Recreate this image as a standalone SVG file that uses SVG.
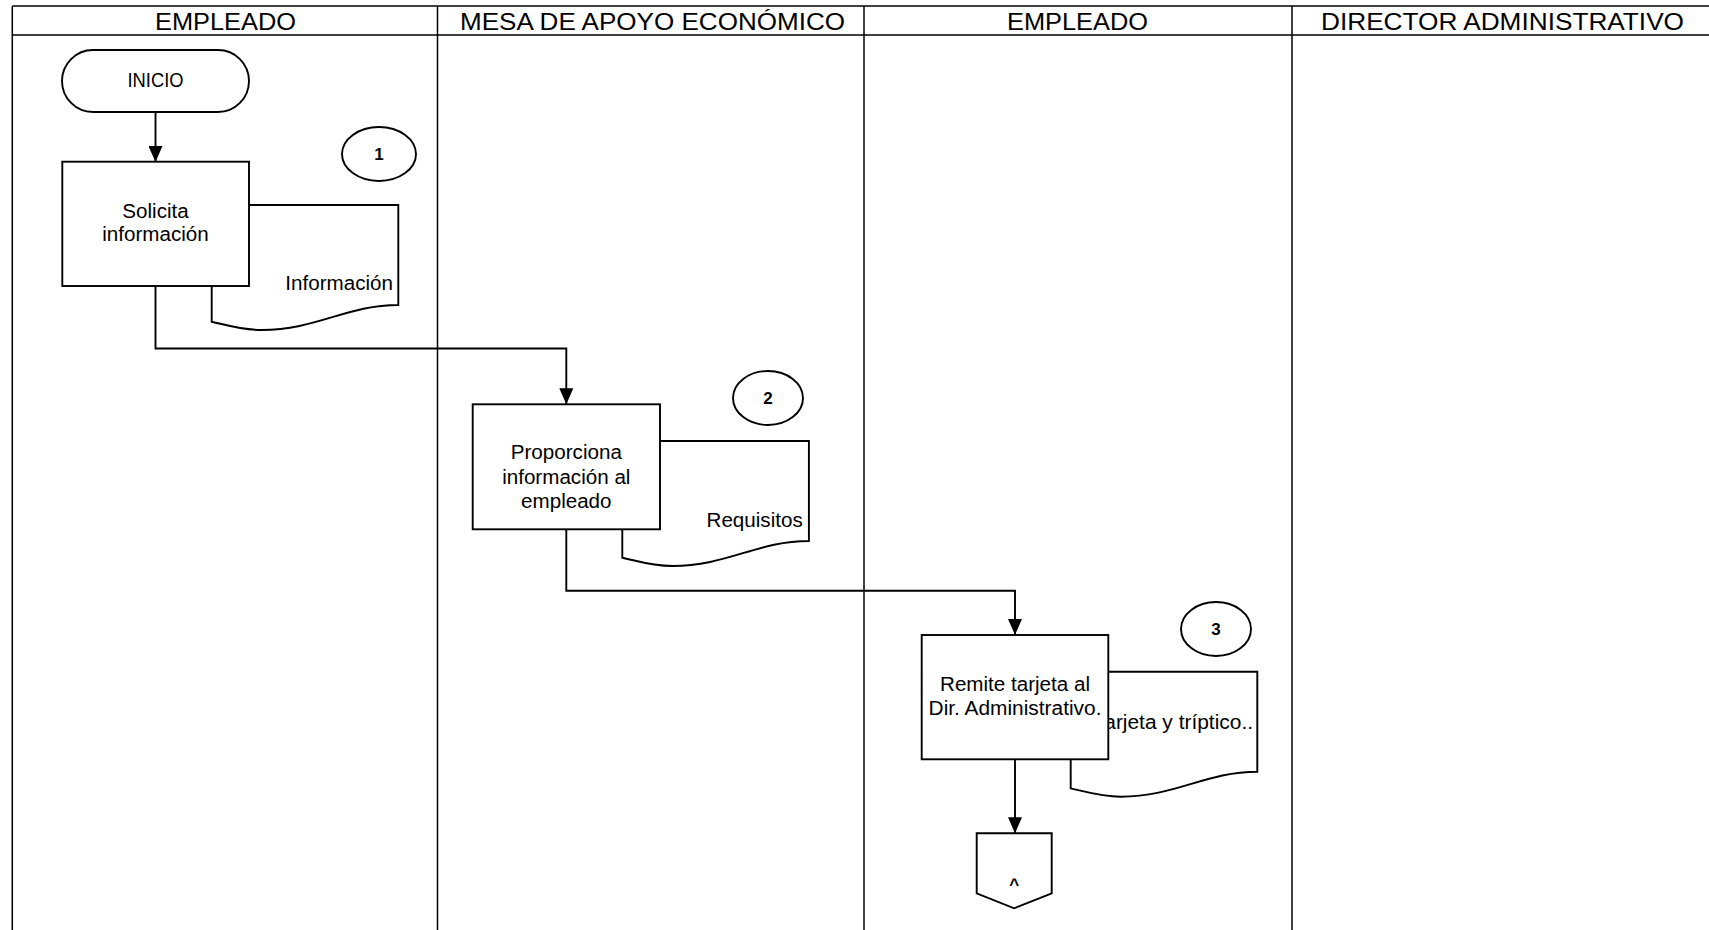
<svg xmlns="http://www.w3.org/2000/svg" width="1709" height="930" viewBox="0 0 1709 930">
  <style>
    .lane { stroke: #000; stroke-width: 1.5; fill: none; }
    .shape { stroke: #000; stroke-width: 1.9; fill: #fff; }
    .conn { stroke: #000; stroke-width: 1.9; fill: none; }
    .hdr { font-family: "Liberation Sans", Arial, sans-serif; font-size: 24px; fill: #000; text-anchor: middle; }
    .txt { font-family: "Liberation Sans", Arial, sans-serif; font-size: 19.5px; fill: #000; text-anchor: middle; }
    .doctxt { font-family: "Liberation Sans", Arial, sans-serif; font-size: 19.5px; fill: #000; text-anchor: end; }
    .num { font-family: "Liberation Sans", Arial, sans-serif; font-size: 17px; font-weight: bold; fill: #000; text-anchor: middle; }
  </style>
  <defs>
    <marker id="arrow" markerUnits="userSpaceOnUse" markerWidth="16" markerHeight="14" refX="16" refY="7" orient="auto">
      <path d="M0,0 L16,7 L0,14 Z" fill="#000"/>
    </marker>
    <!-- document symbol, 186.6 wide, wavy bottom edge -->
    <path id="doc" d="M0,0 H186.6 V100 C135,100 105,125 50,125 C30,125 15,120 0,116.7 Z"/>
  </defs>

  <rect x="0" y="0" width="1709" height="930" fill="#fff"/>

  <!-- swimlanes -->
  <g id="lanes">
    <line class="lane" x1="12.3" y1="6" x2="1709" y2="6"/>
    <line class="lane" x1="12.3" y1="35" x2="1709" y2="35"/>
    <line class="lane" x1="12.3" y1="6" x2="12.3" y2="930"/>
    <line class="lane" x1="437.5" y1="6" x2="437.5" y2="930"/>
    <line class="lane" x1="864" y1="6" x2="864" y2="930"/>
    <line class="lane" x1="1292" y1="6" x2="1292" y2="930"/>
    <text class="hdr" x="225.5" y="29.5" textLength="141" lengthAdjust="spacingAndGlyphs">EMPLEADO</text>
    <text class="hdr" x="652.5" y="29.5" textLength="385" lengthAdjust="spacingAndGlyphs">MESA DE APOYO ECONÓMICO</text>
    <text class="hdr" x="1077.5" y="29.5" textLength="141" lengthAdjust="spacingAndGlyphs">EMPLEADO</text>
    <text class="hdr" x="1502.5" y="29.5" textLength="363" lengthAdjust="spacingAndGlyphs">DIRECTOR ADMINISTRATIVO</text>
  </g>

  <!-- connectors -->
  <g id="connectors">
    <path class="conn" d="M155.5,112 V162" marker-end="url(#arrow)"/>
    <path class="conn" d="M155.5,286 V348.5 H566.3 V404.3" marker-end="url(#arrow)"/>
    <path class="conn" d="M566.3,529.3 V590.7 H1015 V635" marker-end="url(#arrow)"/>
    <path class="conn" d="M1015,759.3 V833.3" marker-end="url(#arrow)"/>
  </g>

  <g id="inicio">
    <rect class="shape" x="62" y="50" width="187" height="62" rx="31" ry="31"/>
    <text class="txt" x="155.5" y="86.5" textLength="56" lengthAdjust="spacingAndGlyphs">INICIO</text>
  </g>

  <g id="doc1">
    <use href="#doc" class="shape" x="211.7" y="205"/>
    <text class="doctxt" x="393" y="289.5" textLength="107.7" lengthAdjust="spacingAndGlyphs">Información</text>
  </g>
  <g id="step1">
    <rect class="shape" x="62.3" y="161.7" width="186.7" height="124.3"/>
    <text class="txt" x="155.5" y="217.5" textLength="66.4" lengthAdjust="spacingAndGlyphs">Solicita</text>
    <text class="txt" x="155.5" y="241" textLength="106.5" lengthAdjust="spacingAndGlyphs">información</text>
  </g>
  <g id="num1">
    <ellipse class="shape" cx="379" cy="154" rx="37" ry="27"/>
    <text class="num" x="379" y="160">1</text>
  </g>

  <g id="doc2">
    <use href="#doc" class="shape" x="622.3" y="441"/>
    <text class="doctxt" x="802.7" y="526.5" textLength="96.2" lengthAdjust="spacingAndGlyphs">Requisitos</text>
  </g>
  <g id="step2">
    <rect class="shape" x="472.7" y="404.3" width="187.3" height="125"/>
    <text class="txt" x="566.3" y="459" textLength="111.1" lengthAdjust="spacingAndGlyphs">Proporciona</text>
    <text class="txt" x="566.3" y="483.5" textLength="128.3" lengthAdjust="spacingAndGlyphs">información al</text>
    <text class="txt" x="566.3" y="507.5" textLength="90.5" lengthAdjust="spacingAndGlyphs">empleado</text>
  </g>
  <g id="num2">
    <ellipse class="shape" cx="768" cy="398" rx="35" ry="27"/>
    <text class="num" x="768" y="404">2</text>
  </g>

  <g id="doc3">
    <use href="#doc" class="shape" x="1070.7" y="671.7"/>
    <text class="doctxt" x="1253" y="729" textLength="159.2" lengthAdjust="spacingAndGlyphs">Tarjeta y tríptico..</text>
  </g>
  <g id="step3">
    <rect class="shape" x="921.7" y="635" width="186.6" height="124.3"/>
    <text class="txt" x="1015" y="690.6" textLength="150" lengthAdjust="spacingAndGlyphs">Remite tarjeta al</text>
    <text class="txt" x="1015" y="714.5" textLength="172.9" lengthAdjust="spacingAndGlyphs">Dir. Administrativo.</text>
  </g>
  <g id="num3">
    <ellipse class="shape" cx="1216" cy="629" rx="35" ry="27"/>
    <text class="num" x="1216" y="635">3</text>
  </g>

  <g id="offpage">
    <path class="shape" d="M976.7,833.3 H1051.7 V893.3 L1014.2,908.3 L976.7,893.3 Z"/>
    <text class="num" x="1014.2" y="890">^</text>
  </g>
</svg>
